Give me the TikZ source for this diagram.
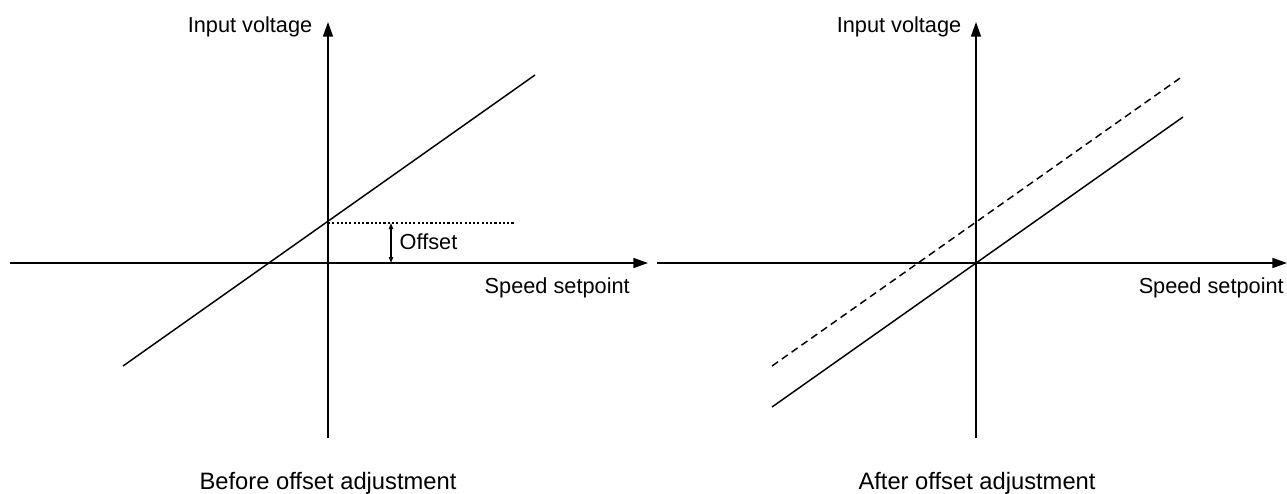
\documentclass[tikz,border=0pt]{standalone}
\usepackage{fontspec}
\setmainfont{Liberation Sans}
\usetikzlibrary{arrows.meta, positioning}

\begin{document}
\begin{tikzpicture}[
  x=0.75pt, y=-0.75pt,
  >={Triangle[length=11pt, width=7.5pt]},  % Arrow tip
  line width=1.1pt,
  % Define styles
  axis/.style={
    ->,
    line width=1.1pt
  },
  graph/.style={
    line width=1.1pt
  },
  shifted/.style={
    line width=1.1pt,
    dash pattern=on 5.5pt off 3.5pt
  },
  guide/.style={
    line width=0.8pt,
    dash pattern=on 1.6pt off 1.6pt
  },
  offsetarrow/.style={
    {Triangle[length=4.5pt, width=3.2pt]}-{Triangle[length=4.5pt, width=3.2pt]},
    line width=0.8pt
  },
  label/.style={
    inner sep=0pt,
    font=\fontsize{16.3}{19}\selectfont
  },
  caption/.style={
    inner sep=0pt,
    font=\fontsize{17.8}{21}\selectfont
  }
]
\useasboundingbox (0,0) rectangle (1287,493);

% -----------------------------------------------
% BEFORE OFFSET ADJUSTMENT
% -----------------------------------------------
\coordinate (leftXstart) at (10,263);
\coordinate (leftXend) at (648,263);
\coordinate (leftYstart) at (328,438);
\coordinate (leftYend) at (328,22);
\coordinate (leftLineA) at (123,366);
\coordinate (leftLineB) at (535,75);
\coordinate (leftCross) at (328,223);
\coordinate (leftGuideEnd) at (515,223);
\coordinate (offsetTop) at (391,223);
\coordinate (offsetBottom) at (391,263);

\draw[axis] (leftXstart) -- (leftXend);
\draw[axis] (leftYstart) -- (leftYend);
\draw[graph] (leftLineA) -- (leftLineB);
\draw[guide] (leftCross) -- (leftGuideEnd);
\draw[offsetarrow] (offsetTop) -- (offsetBottom);

\node[label, anchor=base east] (leftYlabel) at (313,32) {Input voltage};
\node[label, anchor=base west] (leftXlabel) at (484,293) {Speed setpoint};
\node[label, anchor=base west] (offsetLabel) at (399,249) {Offset};
\node[caption, anchor=base] (beforeCaption) at (328,489) {Before offset adjustment};

% -----------------------------------------------
% AFTER OFFSET ADJUSTMENT
% -----------------------------------------------
\coordinate (rightXstart) at (657,263);
\coordinate (rightXend) at (1287,263);
\coordinate (rightYstart) at (976,438);
\coordinate (rightYend) at (976,22);
\coordinate (rightLineA) at (772,407);
\coordinate (rightLineB) at (1183,117);
\coordinate (rightDashA) at (772,366);
\coordinate (rightDashB) at (1183,76);

\draw[axis] (rightXstart) -- (rightXend);
\draw[axis] (rightYstart) -- (rightYend);
\draw[graph] (rightLineA) -- (rightLineB);
\draw[shifted] (rightDashA) -- (rightDashB);

\node[label, anchor=base east] (rightYlabel) at (962,32) {Input voltage};
\node[label, anchor=base west] (rightXlabel) at (1138,293) {Speed setpoint};
\node[caption, anchor=base] (afterCaption) at (977,489) {After offset adjustment};

\end{tikzpicture}
\end{document}
